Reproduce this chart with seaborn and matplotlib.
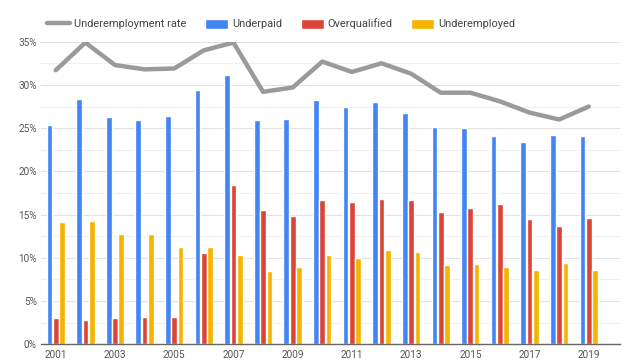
import numpy as np
import pandas as pd
import matplotlib
matplotlib.use('Agg')
import matplotlib.pyplot as plt
from matplotlib.ticker import MultipleLocator, FuncFormatter
import seaborn as sns

# Datos (porcentajes)
years = [str(y) for y in range(2001, 2020)]
rate = [31.7, 34.9, 32.3, 31.8, 31.9, 34.0, 34.9, 29.2, 29.7, 32.7,
        31.5, 32.5, 31.3, 29.1, 29.1, 28.1, 26.8, 26.0, 27.5]
underpaid = [25.4, 28.4, 26.3, 25.9, 26.4, 29.4, 31.2, 25.9, 26.1, 28.3,
             27.5, 28.0, 26.8, 25.1, 25.0, 24.1, 23.4, 24.2, 24.1]
overqualified = [3.1, 2.85, 3.1, 3.15, 3.15, 10.55, 18.4, 15.5, 14.8, 16.65,
                 16.45, 16.8, 16.7, 15.3, 15.8, 16.2, 14.5, 13.7, 14.6]
underemployed = [14.2, 14.25, 12.75, 12.75, 11.3, 11.3, 10.3, 8.5, 8.95, 10.3,
                 9.95, 10.85, 10.65, 9.15, 9.3, 8.95, 8.6, 9.45, 8.6]

series = ['Underpaid', 'Overqualified', 'Underemployed']
colors = ['#4285F4', '#DB4437', '#F4B400']

df = pd.DataFrame({
    'year': years * 3,
    'value': underpaid + overqualified + underemployed,
    'series': np.repeat(series, len(years)),
})

sns.set_style('white')
plt.rcParams['font.family'] = ['Roboto', 'DejaVu Sans']

fig = plt.figure(figsize=(6.4, 3.6), dpi=100)
ax = fig.add_axes([0.064, 0.0436, 0.905, 0.8406])

sns.barplot(data=df, x='year', y='value', hue='series', palette=colors,
            width=0.64, gap=0.1, ax=ax, saturation=1, legend=True)
sns.lineplot(x=np.arange(len(years)), y=rate, color='#9a9a9a', lw=3.2,
             ax=ax, label='Underemployment rate', zorder=5)

ax.set_ylim(0, 35)
ax.set_xlim(-0.5, 19.06)
ax.yaxis.set_major_locator(MultipleLocator(5))
ax.yaxis.set_minor_locator(MultipleLocator(2.5))
ax.yaxis.set_major_formatter(FuncFormatter(lambda v, p: f'{v:.0f}%'))
ax.grid(axis='y', which='major', color='#e2e2e2', lw=0.8)
ax.grid(axis='y', which='minor', color='#efefef', lw=0.8)
ax.set_axisbelow(True)

ax.set_xticks(range(0, len(years), 2))
ax.set_xticklabels(years[::2])
ax.tick_params(axis='both', length=0, labelsize=7.2, colors='#555555')
ax.tick_params(axis='x', pad=4)
ax.tick_params(axis='y', pad=3)
ax.set_xlabel('')
ax.set_ylabel('')
for s in ['top', 'right', 'left']:
    ax.spines[s].set_visible(False)
ax.spines['bottom'].set_color('#666666')
ax.spines['bottom'].set_linewidth(1)

handles, labels = ax.get_legend_handles_labels()
order = [labels.index('Underemployment rate')] + [labels.index(s) for s in series]
ax.get_legend().remove()
fig.legend([handles[i] for i in order], [labels[i] for i in order],
           loc='center left', bbox_to_anchor=(0.0585, 1 - 24 / 360), ncol=4,
           frameon=False, fontsize=7.9, labelcolor='#444444',
           handlelength=2.1, handleheight=1.1, handletextpad=0.35,
           columnspacing=1.7)

fig.savefig('out.png', dpi=100)
